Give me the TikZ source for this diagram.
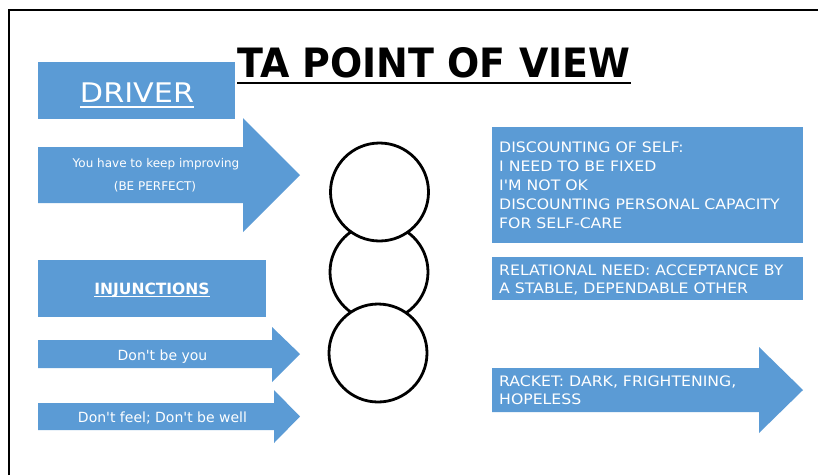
\documentclass[tikz,border=0pt]{standalone}
\usepackage{graphicx}
\usepackage{fontspec}
\setmainfont{DejaVu Sans}
\newfontfamily\plainfont{DejaVu Sans}
\definecolor{tablue}{HTML}{5B9BD5}
\newcommand\wide[2][1.09]{\scalebox{#1}[1]{#2}}
\tikzset{
  blueshape/.style={fill=tablue},
  wt/.style={text=white, inner sep=0pt, font=\plainfont\fontsize{14.4}{19}\selectfont},
  ring/.style={circle, draw=black, line width=2.8pt, fill=white, minimum size=98pt, inner sep=0pt},
  uline/.style={line width=1.3pt, white}
}
\begin{document}
\begin{tikzpicture}[x=1pt,y=-1pt]
\useasboundingbox (0,0) rectangle (818,475);
\fill[white] (0,0) rectangle (818,475);
\draw[line width=2pt] (9,475) -- (9,10) -- (818,10);

% title
\node[inner sep=0pt, anchor=base west] (title) at (237,77) {\resizebox{393pt}{30pt}{\bfseries TA POINT OF VIEW}};
\draw[line width=2.2pt] ([yshift=-6pt]title.base west) -- ([yshift=-6pt]title.base east);

% left side
\fill[blueshape] (38,62) rectangle (235,119);
\node[wt, anchor=base, font=\plainfont\fontsize{27}{32}\selectfont] (drv) at (137,102) {\wide[1.12]{DRIVER}};
\draw[uline, line width=1.6pt] ([yshift=-5pt]drv.base west) -- ([yshift=-5pt]drv.base east);

\fill[blueshape] (38,147) -- (243,147) -- (243,118) -- (300,175) -- (243,232) -- (243,203) -- (38,203) -- cycle;
\node[wt, anchor=base, font=\plainfont\fontsize{12}{15}\selectfont] (d1) at (156,167) {You have to keep improving};
\node[wt, anchor=base, font=\plainfont\fontsize{12}{15}\selectfont] (d2) at (155,190) {(BE PERFECT)};

\fill[blueshape] (38,260) rectangle (266,317);
\node[wt, anchor=base, font=\plainfont\bfseries\fontsize{15.5}{18}\selectfont] (inj) at (152,294) {INJUNCTIONS};
\draw[uline, line width=1pt] ([yshift=-2.5pt]inj.base west) -- ([yshift=-2.5pt]inj.base east);

\fill[blueshape] (38,340) -- (272,340) -- (272,327) -- (300,354) -- (272,382) -- (272,368) -- (38,368) -- cycle;
\node[wt, anchor=base, font=\plainfont\fontsize{14}{17}\selectfont] (i1) at (162.5,360) {Don't be you};

\fill[blueshape] (38,403) -- (274,403) -- (274,390) -- (300,416.5) -- (274,443) -- (274,430) -- (38,430) -- cycle;
\node[wt, anchor=base, font=\plainfont\fontsize{14}{17}\selectfont] (i2) at (162.5,422) {Don't feel; Don't be well};

% circles
\node[ring] (cmid) at (379,272) {};
\node[ring] (ctop) at (379.5,192) {};
\node[ring] (cbot) at (378,353) {};

% right side
\fill[blueshape] (492,127) rectangle (803,243);
\node[wt, anchor=base west] (r1) at (499,152) {\wide{DISCOUNTING OF SELF:}};
\node[wt, anchor=base west] (r2) at (499,171) {\wide{I NEED TO BE FIXED}};
\node[wt, anchor=base west] (r3) at (499,190) {\wide{I'M NOT OK}};
\node[wt, anchor=base west] (r4) at (499,209) {\wide{DISCOUNTING PERSONAL CAPACITY}};
\node[wt, anchor=base west] (r5) at (499,228) {\wide{FOR SELF-CARE}};

\fill[blueshape] (492,257) rectangle (803,300);
\node[wt, anchor=base west] (n1) at (499,275) {\wide{RELATIONAL NEED: ACCEPTANCE BY}};
\node[wt, anchor=base west] (n2) at (499,293) {\wide{A STABLE, DEPENDABLE OTHER}};

\fill[blueshape] (492,368) -- (759,368) -- (759,347) -- (803,390) -- (759,433) -- (759,412) -- (492,412) -- cycle;
\node[wt, anchor=base west] (k1) at (499,386) {\wide{RACKET: DARK, FRIGHTENING,}};
\node[wt, anchor=base west] (k2) at (499,404) {\wide{HOPELESS}};
\end{tikzpicture}
\end{document}
